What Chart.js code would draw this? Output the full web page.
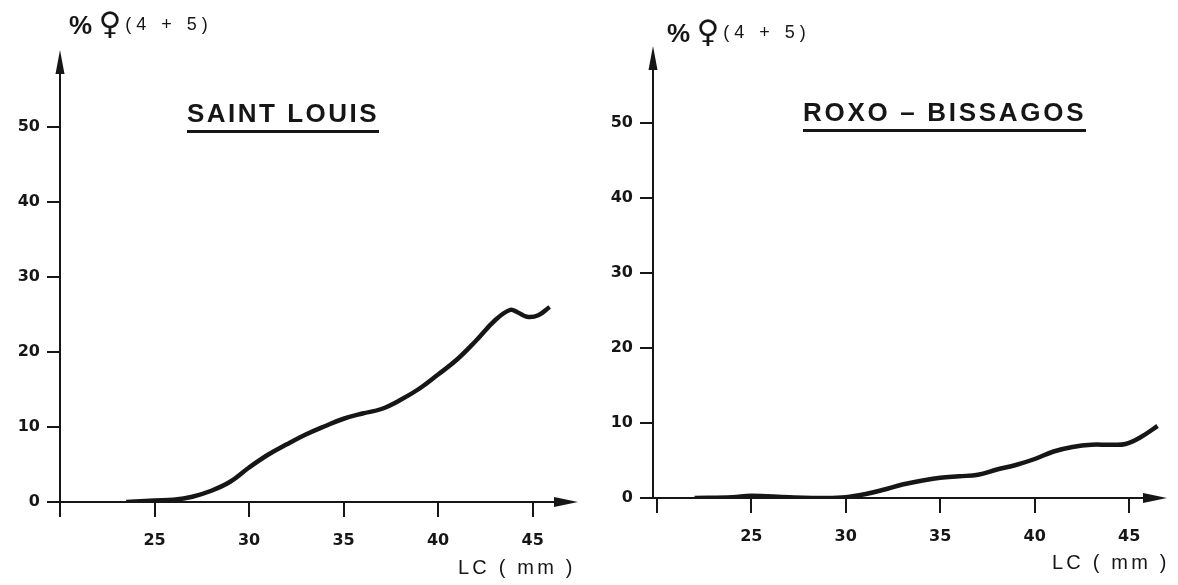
<!DOCTYPE html>
<html>
<head>
<meta charset="utf-8">
<script src="https://cdn.jsdelivr.net/npm/chart.js@4"></script>
<style>
  body { margin: 0; background: #fff; }
  #wrap { position: relative; width: 1178px; height: 585px; overflow: hidden; font-family: "Liberation Sans", Arial, sans-serif; color: #161616; }
  canvas { position: absolute; top: 0; }
  .title { position: absolute; font-weight: bold; font-size: 26px; letter-spacing: 2.5px; border-bottom: 3px solid #161616; line-height: 26px; padding-bottom: 4px; white-space: pre; }
  .ylab { position: absolute; white-space: pre; line-height: 30px; }
  .ylab .pc { font-size: 26px; font-weight: bold; }
  .ylab .fe { font-family: "DejaVu Sans"; font-size: 31px; margin-left: 2px; margin-right: 4px; }
  .ylab .sm { font-size: 18px; letter-spacing: 5px; position: relative; top: -4px; }
  .xlab { position: absolute; font-size: 20px; letter-spacing: 3.2px; white-space: pre; }
</style>
</head>
<body>
<div id="wrap">
  <canvas id="left" width="590" height="585" style="left:0"></canvas>
  <canvas id="right" width="588" height="585" style="left:590px"></canvas>

  <div class="ylab" style="left:69px; top:8px"><span class="pc">%</span> <span class="fe">♀</span><span class="sm">(4 + 5)</span></div>
  <div class="ylab" style="left:667px; top:16px"><span class="pc">%</span> <span class="fe">♀</span><span class="sm">(4 + 5)</span></div>

  <div class="title" style="left:187px; top:100px">SAINT LOUIS</div>
  <div class="title" style="left:803px; top:99px; letter-spacing:2.7px">ROXO – BISSAGOS</div>

  <div class="xlab" style="left:458px; top:556px">LC ( mm )</div>
  <div class="xlab" style="left:1052px; top:551px">LC ( mm )</div>
</div>

<script>
// carapace length (mm) and % of females in stages 4+5
const stLouisLC  = [23.5, 25, 26, 27, 28, 29, 30, 31, 32, 33, 34, 35, 36, 37, 38, 39, 40, 41, 42, 43, 43.8, 44.2, 44.7, 45.3, 45.9];
const stLouisPct = [0, 0.2, 0.3, 0.7, 1.5, 2.7, 4.6, 6.3, 7.7, 9.0, 10.1, 11.1, 11.8, 12.4, 13.6, 15.1, 17.0, 19.0, 21.5, 24.2, 25.6, 25.3, 24.7, 24.9, 26.0];

const roxoLC  = [22, 24, 25, 27, 29, 30, 31, 32, 33, 34, 35, 36, 37, 38, 39, 40, 41, 42, 43, 44, 44.8, 45.6, 46.5];
const roxoPct = [0, 0.1, 0.3, 0.1, 0, 0.1, 0.5, 1.1, 1.8, 2.3, 2.7, 2.9, 3.1, 3.8, 4.4, 5.2, 6.2, 6.8, 7.1, 7.1, 7.2, 8.1, 9.6];

const xTicks = [20, 25, 30, 35, 40, 45];
const yTicks = [0, 10, 20, 30, 40, 50];

const INK = "#161616";
const tickFont = { family: "DejaVu Sans", size: 16, weight: "bold" };

// axis lines with arrow heads (the reference is a hand drawn figure)
const arrowAxes = {
  id: "arrowAxes",
  afterDraw(chart) {
    const { ctx, chartArea: a } = chart;
    ctx.save();
    ctx.strokeStyle = INK;
    ctx.fillStyle = INK;
    ctx.lineWidth = 2;
    ctx.beginPath();
    ctx.moveTo(a.left, a.bottom);
    ctx.lineTo(a.left, a.top + 10);
    ctx.moveTo(a.left, a.bottom);
    ctx.lineTo(a.right - 10, a.bottom);
    ctx.stroke();
    // up arrow
    ctx.beginPath();
    ctx.moveTo(a.left, a.top - 2);
    ctx.lineTo(a.left - 4.5, a.top + 22);
    ctx.lineTo(a.left + 4.5, a.top + 22);
    ctx.closePath();
    ctx.fill();
    // right arrow
    ctx.beginPath();
    ctx.moveTo(a.right, a.bottom);
    ctx.lineTo(a.right - 24, a.bottom - 5);
    ctx.lineTo(a.right - 24, a.bottom + 5);
    ctx.closePath();
    ctx.fill();
    ctx.restore();
  }
};

function makeChart(id, lc, pct, opts) {
  const ctx = document.getElementById(id).getContext("2d");
  return new Chart(ctx, {
    type: "line",
    data: {
      datasets: [{
        data: lc.map((v, i) => ({ x: v, y: pct[i] })),
        borderColor: INK,
        borderWidth: 4.5,
        pointRadius: 0,
        tension: 0.4,
        fill: false
      }]
    },
    options: {
      responsive: false,
      animation: false,
      layout: { padding: { top: opts.top, right: opts.right, left: 0, bottom: 0 } },
      plugins: { legend: { display: false }, tooltip: { enabled: false } },
      scales: {
        x: {
          type: "linear",
          min: opts.xmin,
          max: opts.xmax,
          afterBuildTicks: (s) => { s.ticks = xTicks.map(v => ({ value: v })); },
          afterFit: (s) => { s.height = 585 - opts.bottom; },
          border: { display: false },
          grid: { drawOnChartArea: false, drawTicks: true, tickLength: 15, color: INK, lineWidth: 2 },
          ticks: {
            color: INK,
            padding: 14,
            maxRotation: 0,
            font: tickFont,
            callback: (v) => v === 20 ? "" : v
          }
        },
        y: {
          min: 0,
          max: 60,
          afterBuildTicks: (s) => { s.ticks = yTicks.map(v => ({ value: v })); },
          afterFit: (s) => { s.width = opts.left; },
          border: { display: false },
          grid: { drawOnChartArea: false, drawTicks: true, tickLength: 13, color: INK, lineWidth: 2 },
          ticks: {
            color: INK,
            padding: 7,
            font: tickFont
          }
        }
      }
    },
    plugins: [arrowAxes]
  });
}

window.addEventListener("DOMContentLoaded", () => {
  makeChart("left", stLouisLC, stLouisPct, { left: 60, right: 12, top: 52, bottom: 502, xmin: 20, xmax: 47.4 });
  makeChart("right", roxoLC, roxoPct, { left: 63, right: 11, top: 48, bottom: 498, xmin: 19.8, xmax: 47.0 });
});
</script>
</body>
</html>
